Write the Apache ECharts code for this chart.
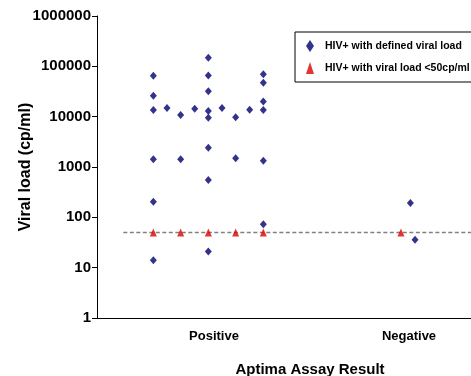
<!DOCTYPE html>
<html>
<head>
<meta charset="utf-8">
<script src="https://cdn.jsdelivr.net/npm/echarts@6/dist/echarts.min.js"></script>
<style>
html,body{margin:0;padding:0;background:#fff;}
#chart{width:471px;height:376px;}
</style>
</head>
<body>
<div id="chart"></div>
<script>
// Category labels and their positions on the numeric x axis
var categories = ['Positive', 'Negative'];
var categoryPos = [1, 2];
var yTicks = [1, 10, 100, 1000, 10000, 100000, 1000000];

// HIV+ with defined viral load: jittered x position and viral load (cp/ml)
var definedX = [
  0.689, 0.689, 0.689, 0.689, 0.689, 0.689,
  0.759,
  0.829, 0.829,
  0.901,
  0.971, 0.971, 0.971, 0.971, 0.971, 0.971, 0.971, 0.971,
  1.041,
  1.111, 1.111,
  1.183,
  1.253, 1.253, 1.253, 1.253, 1.253, 1.253,
  2.007, 2.031
];
var definedY = [
  65000, 26000, 13500, 1420, 205, 14,
  14900,
  10800, 1420,
  14400,
  148000, 66000, 32000, 13000, 9500, 2400, 550, 21,
  14900,
  9700, 1490,
  13800,
  70000, 47000, 20000, 13500, 1330, 73,
  193, 36
];

// HIV+ with viral load <50 cp/ml
var lowX = [0.689, 0.829, 0.971, 1.111, 1.253, 1.959];
var lowY = [50, 50, 50, 50, 50, 50];

// Detection cutoff line
var cutoff = 50;
var cutoffStartX = 0.535;
var xMin = 0.4, xMax = 2.318;

function zip(xs, ys) { return xs.map(function (x, i) { return [x, ys[i]]; }); }

var FONT = 'Liberation Sans, Arial, sans-serif';
var chart = echarts.init(document.getElementById('chart'), null, {renderer: 'canvas'});
chart.setOption({
  animation: false,
  backgroundColor: '#ffffff',
  grid: {left: 97, right: 0, top: 16, bottom: 58, containLabel: false, outerBoundsMode: 'none'},
  legend: {
    orient: 'vertical',
    left: 295, top: 32,
    borderColor: '#000', borderWidth: 1,
    padding: [8, 8, 8, 11],
    itemWidth: 8, itemHeight: 12, itemGap: 10,
    textStyle: {fontFamily: FONT, fontWeight: 'bold', fontSize: 10.5, color: '#000', padding: [0, 0, 0, 6]},
    data: [
      {name: 'HIV+ with defined viral load', icon: 'diamond'},
      {name: 'HIV+ with viral load <50cp/ml', icon: 'triangle'}
    ]
  },
  xAxis: {
    type: 'value', min: xMin, max: xMax,
    name: 'Aptima Assay Result', nameLocation: 'middle', nameGap: 44,
    nameTextStyle: {fontFamily: FONT, fontWeight: 'bold', fontSize: 15, color: '#000', padding: [0, 0, 0, 52]},
    splitLine: {show: false},
    axisLine: {lineStyle: {color: '#000', width: 1}},
    axisTick: {show: false},
    axisLabel: {
      customValues: categoryPos,
      margin: 12,
      fontFamily: FONT, fontWeight: 'bold', fontSize: 13, color: '#000',
      formatter: function (v) { var i = categoryPos.indexOf(Math.round(v)); return i >= 0 ? categories[i] : ''; }
    }
  },
  yAxis: {
    type: 'log', logBase: 10, min: 1, max: 1000000,
    name: 'Viral load (cp/ml)', nameLocation: 'middle', nameGap: 63, nameMoveOverlap: false,
    nameTextStyle: {fontFamily: FONT, fontWeight: 'bold', fontSize: 16, color: '#000'},
    splitLine: {show: false},
    axisLine: {show: true, lineStyle: {color: '#000', width: 1}},
    axisTick: {show: true, length: 5, lineStyle: {color: '#000'}},
    axisLabel: {
      margin: 6,
      fontFamily: FONT, fontWeight: 'bold', fontSize: 15, color: '#000',
      formatter: function (v) { return String(Math.round(v)); }
    }
  },
  series: [
    {
      name: 'cutoff', type: 'line', silent: true, symbol: 'none',
      data: [[cutoffStartX, cutoff], [xMax, cutoff]],
      lineStyle: {color: '#808080', width: 1.5, type: [4, 2.5]},
      z: 1
    },
    {
      name: 'HIV+ with defined viral load', type: 'scatter',
      symbol: 'diamond', symbolSize: [7, 8],
      itemStyle: {color: '#00006e'},
      data: zip(definedX, definedY), z: 3
    },
    {
      name: 'HIV+ with viral load <50cp/ml', type: 'scatter',
      symbol: 'triangle', symbolSize: [7, 8],
      itemStyle: {color: '#dd0000'},
      data: zip(lowX, lowY), z: 2
    }
  ]
});
</script>
</body>
</html>
